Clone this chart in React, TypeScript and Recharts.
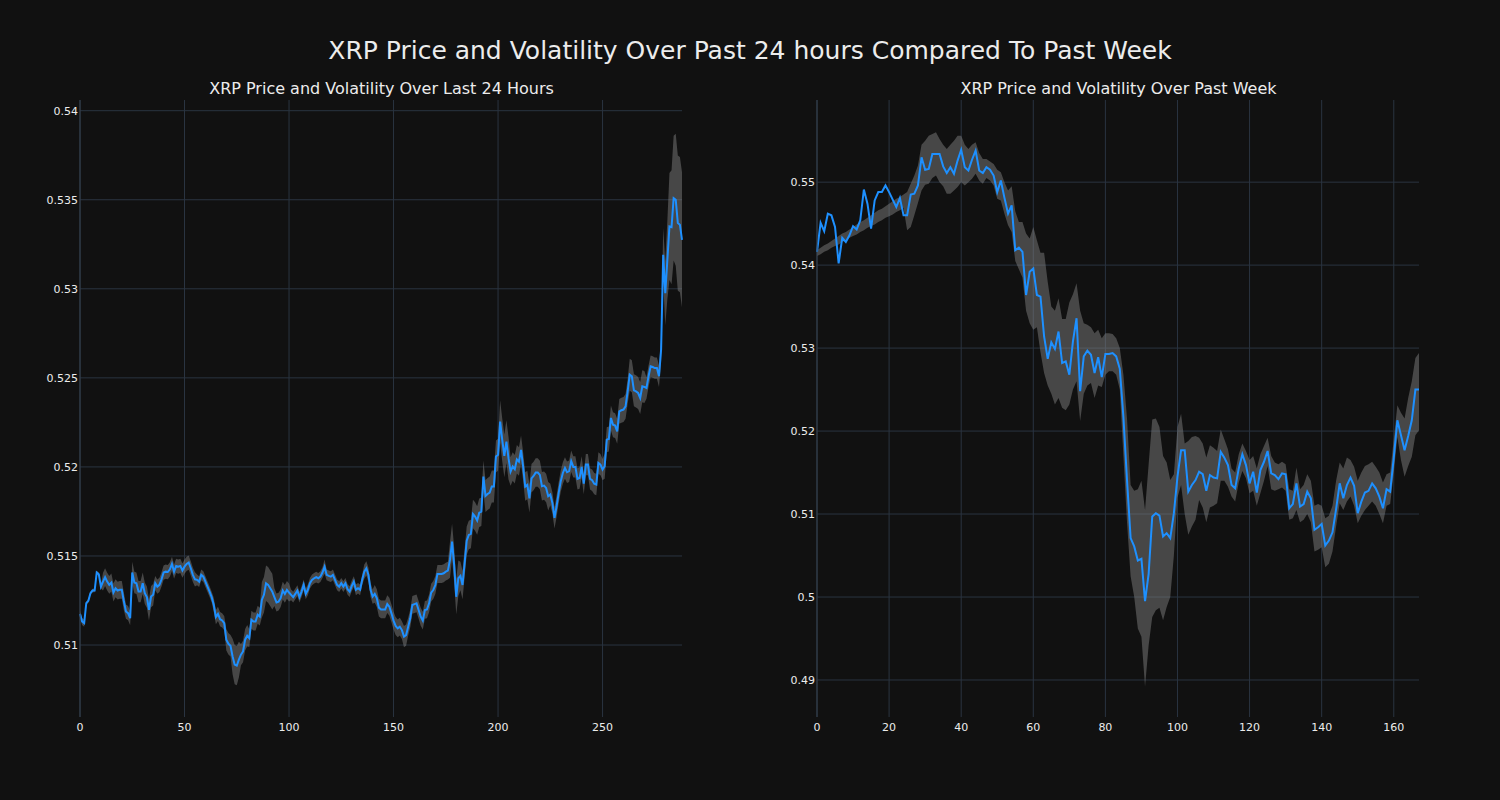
import { Area, CartesianGrid, ComposedChart, Line, XAxis, YAxis } from "recharts";

// 24h panel: 5-minute closes and rolling volatility (band half-width)
const dayPrice = [
  0.51175, 0.51132, 0.51123, 0.51235, 0.51248, 0.51291, 0.51306, 0.51306, 0.51407, 0.51397,
  0.51328, 0.51356, 0.51381, 0.51356, 0.51338, 0.51351, 0.51295, 0.51319, 0.51306, 0.5131,
  0.5131, 0.51244, 0.51188, 0.51179, 0.51151, 0.51407, 0.51351, 0.51347, 0.513, 0.513,
  0.51347, 0.51291, 0.51269, 0.51198, 0.51272, 0.51282, 0.51347, 0.51328, 0.51338, 0.51369,
  0.51407, 0.51412, 0.5141, 0.51425, 0.51455, 0.51412, 0.51444, 0.5144, 0.51444, 0.51418,
  0.5144, 0.51455, 0.51463, 0.51431, 0.51394, 0.51369, 0.51366, 0.51356, 0.51394, 0.51384,
  0.51356, 0.51328, 0.513, 0.51269, 0.51226, 0.51157, 0.51175, 0.51145, 0.51138, 0.51123,
  0.5103, 0.51007, 0.50996, 0.50936, 0.5089, 0.50884, 0.50918, 0.50946, 0.50964, 0.5103,
  0.51052, 0.51039, 0.51142, 0.51132, 0.51132, 0.5117, 0.5116, 0.51254, 0.51282, 0.51347,
  0.51338, 0.51319, 0.513, 0.51269, 0.51239, 0.51244, 0.51263, 0.51306, 0.51287, 0.5131,
  0.51295, 0.51282, 0.51269, 0.51287, 0.51306, 0.51269, 0.513, 0.51338, 0.51287, 0.5131,
  0.51347, 0.51366, 0.51375, 0.51381, 0.51375, 0.51384, 0.51407, 0.5144, 0.51394, 0.51388,
  0.51384, 0.51394, 0.51366, 0.51338, 0.51328, 0.51347, 0.51328, 0.51347, 0.51313, 0.513,
  0.51332, 0.51356, 0.5131, 0.51319, 0.5131, 0.51366, 0.51412, 0.51431, 0.51394, 0.5131,
  0.51272, 0.51287, 0.51263, 0.5121, 0.512, 0.512, 0.512, 0.5123, 0.51215, 0.51178,
  0.51137, 0.51107, 0.51094, 0.51103, 0.51084, 0.51047, 0.51056, 0.51103, 0.5115, 0.51225,
  0.5123, 0.51234, 0.51197, 0.51159, 0.51137, 0.51197, 0.512, 0.51234, 0.51294, 0.51309,
  0.51337, 0.51399, 0.51399, 0.51399, 0.51403, 0.51412, 0.51418, 0.51478, 0.51581, 0.51449,
  0.51271, 0.51375, 0.51388, 0.51337, 0.51459, 0.51586, 0.51618, 0.51624, 0.51736, 0.51721,
  0.51699, 0.51743, 0.51749, 0.51946, 0.51837, 0.51848, 0.51856, 0.5189, 0.5189, 0.52058,
  0.52068, 0.52255, 0.52152, 0.52062, 0.52142, 0.52049, 0.51974, 0.52002, 0.51987, 0.52043,
  0.5203, 0.52096, 0.52002, 0.5189, 0.51899, 0.51824, 0.51936, 0.51949, 0.51968, 0.51968,
  0.51955, 0.51892, 0.51895, 0.51882, 0.51835, 0.51845, 0.51798, 0.51714, 0.51779, 0.51854,
  0.5192, 0.51966, 0.51994, 0.5197, 0.51976, 0.52032, 0.52, 0.52, 0.51933, 0.51938,
  0.52, 0.51906, 0.52013, 0.52013, 0.51933, 0.51925, 0.51906, 0.51901, 0.52022, 0.52013,
  0.51985, 0.52004, 0.52153, 0.52157, 0.52275, 0.52237, 0.52232, 0.522, 0.52312, 0.52318,
  0.52322, 0.5234, 0.52424, 0.52518, 0.52509, 0.5243, 0.52424, 0.52415, 0.52387, 0.52453,
  0.52449, 0.52443, 0.52509, 0.52565, 0.52561, 0.52555, 0.52555, 0.52509, 0.52658, 0.53191,
  0.52976, 0.53163, 0.5335, 0.53346, 0.53509, 0.535, 0.53369, 0.5336, 0.53275,
];

const dayVol = [
  0.0002, 0.0002, 0.0002, 0.0001, 0.0001, 0.0001, 0.0001, 0.0001, 0.0001, 0.0001,
  0.0001, 0.0005, 0.0005, 0.0005, 0.0005, 0.0005, 0.0005, 0.0005, 0.0005, 0.0005,
  0.0005, 0.0005, 0.0004, 0.0004, 0.0004, 0.0006, 0.0006, 0.0006, 0.0006, 0.0006,
  0.0006, 0.0006, 0.0006, 0.0006, 0.0006, 0.0006, 0.0004, 0.0004, 0.0004, 0.0004,
  0.0004, 0.0004, 0.0004, 0.0004, 0.0004, 0.0004, 0.0004, 0.0004, 0.0004, 0.0004,
  0.0004, 0.0004, 0.0004, 0.0004, 0.0004, 0.0004, 0.0003, 0.0003, 0.0003, 0.0003,
  0.0003, 0.0003, 0.0003, 0.0003, 0.0004, 0.0004, 0.0004, 0.0004, 0.0004, 0.0004,
  0.0006, 0.0006, 0.0006, 0.001, 0.0011, 0.0011, 0.001, 0.0006, 0.0006, 0.0006,
  0.0006, 0.0005, 0.0005, 0.0005, 0.0005, 0.0005, 0.0005, 0.001, 0.001, 0.001,
  0.001, 0.001, 0.001, 0.0005, 0.0005, 0.0005, 0.0005, 0.0005, 0.0005, 0.0005,
  0.0005, 0.0003, 0.0003, 0.0003, 0.0003, 0.0003, 0.0003, 0.0003, 0.0003, 0.0003,
  0.0003, 0.0003, 0.0003, 0.0003, 0.0003, 0.0003, 0.0003, 0.0004, 0.0003, 0.0003,
  0.0003, 0.0003, 0.0003, 0.0003, 0.0003, 0.0003, 0.0003, 0.0003, 0.0003, 0.0003,
  0.0003, 0.0003, 0.0003, 0.0003, 0.0003, 0.0003, 0.0004, 0.0004, 0.0004, 0.0004,
  0.0004, 0.0005, 0.0005, 0.0005, 0.0005, 0.0005, 0.0005, 0.0005, 0.0005, 0.0005,
  0.0005, 0.0005, 0.0005, 0.0005, 0.0005, 0.0006, 0.0006, 0.0005, 0.0005, 0.0005,
  0.0005, 0.0005, 0.0005, 0.0005, 0.0005, 0.0005, 0.0005, 0.0005, 0.0005, 0.0005,
  0.0005, 0.0005, 0.0005, 0.0005, 0.0005, 0.0005, 0.0005, 0.001, 0.001, 0.001,
  0.001, 0.001, 0.0008, 0.0008, 0.0008, 0.0008, 0.0008, 0.0008, 0.0008, 0.0008,
  0.0008, 0.0008, 0.0008, 0.0009, 0.0009, 0.0009, 0.0009, 0.0009, 0.0009, 0.0009,
  0.0009, 0.0012, 0.0012, 0.0012, 0.0012, 0.0012, 0.0008, 0.0008, 0.0008, 0.0008,
  0.0008, 0.0008, 0.0008, 0.0008, 0.0008, 0.0008, 0.0008, 0.0008, 0.0008, 0.0008,
  0.0008, 0.0008, 0.0008, 0.0008, 0.0008, 0.0006, 0.0006, 0.0006, 0.0006, 0.0006,
  0.0006, 0.0006, 0.0006, 0.0006, 0.0006, 0.0006, 0.0006, 0.0006, 0.0006, 0.0006,
  0.0006, 0.0006, 0.0006, 0.0006, 0.0006, 0.0006, 0.0006, 0.0006, 0.0006, 0.0006,
  0.0006, 0.0007, 0.0007, 0.0007, 0.0007, 0.0007, 0.0007, 0.0007, 0.0007, 0.0007,
  0.0007, 0.0007, 0.0007, 0.0009, 0.0009, 0.0009, 0.0009, 0.0009, 0.0009, 0.0009,
  0.0009, 0.0006, 0.0006, 0.0006, 0.0006, 0.0006, 0.0006, 0.0006, 0.0006, 0.0015,
  0.0018, 0.0022, 0.003, 0.0032, 0.0035, 0.0037, 0.0038, 0.0038, 0.0038,
];

const dayTicksX = [0, 50, 100, 150, 200, 250];
const dayTicksY = [0.51, 0.515, 0.52, 0.525, 0.53, 0.535, 0.54];

// week panel: hourly closes with upper / lower band
const weekPrice = [
  0.5416, 0.5451, 0.5441, 0.5462, 0.546, 0.5446, 0.5402, 0.5433, 0.5428, 0.5436,
  0.5447, 0.5443, 0.5454, 0.5491, 0.5474, 0.5444, 0.5478, 0.5488, 0.5488, 0.5496,
  0.5488, 0.5479, 0.547, 0.5481, 0.546, 0.546, 0.5485, 0.5486, 0.5496, 0.553,
  0.5515, 0.5516, 0.5534, 0.5534, 0.5534, 0.5519, 0.5511, 0.5518, 0.551, 0.5526,
  0.5539, 0.5518, 0.5514, 0.5527, 0.5538, 0.5514, 0.5511, 0.5518, 0.5515, 0.5508,
  0.5488, 0.5502, 0.5481, 0.5462, 0.5472, 0.5418, 0.5421, 0.5416, 0.5364, 0.5392,
  0.5396, 0.5364, 0.5362, 0.5314, 0.5287, 0.5307, 0.5299, 0.532, 0.5282, 0.5284,
  0.5268, 0.5308, 0.5336, 0.5248, 0.529, 0.5297, 0.5292, 0.527, 0.5289, 0.5265,
  0.5293, 0.5293, 0.5294, 0.529, 0.5275, 0.5217, 0.5141, 0.5071, 0.5061, 0.5044,
  0.5046, 0.4995, 0.5028, 0.5097, 0.5101, 0.5098, 0.5073, 0.5077, 0.5071, 0.5101,
  0.5145, 0.5177, 0.5177, 0.5127, 0.5135, 0.5141, 0.5151, 0.5148, 0.5128, 0.5147,
  0.5144, 0.5143, 0.5175, 0.5168, 0.5159, 0.5135, 0.5131, 0.5155, 0.5172, 0.5159,
  0.5137, 0.5151, 0.5126, 0.5153, 0.5163, 0.5176, 0.5149, 0.5147, 0.5142, 0.5149,
  0.5148, 0.5107, 0.5112, 0.5137, 0.5109, 0.5112, 0.5127, 0.5119, 0.5081, 0.5084,
  0.5088, 0.5062, 0.5068, 0.5078, 0.5106, 0.5137, 0.5119, 0.5135, 0.5144, 0.5134,
  0.5101, 0.5115, 0.5126, 0.5128, 0.5137, 0.5131, 0.5121, 0.5107, 0.513, 0.5127,
  0.5168, 0.5213, 0.5195, 0.5177, 0.5194, 0.5213, 0.525, 0.525,
];

const weekUpper = [
  0.5418, 0.5421, 0.5424, 0.5426, 0.5429, 0.5432, 0.5435, 0.5438, 0.544, 0.5443,
  0.5446, 0.5449, 0.5452, 0.5454, 0.5457, 0.546, 0.5463, 0.5466, 0.5468, 0.5471,
  0.5474, 0.5477, 0.548, 0.5482, 0.5485, 0.5488, 0.5498, 0.5508, 0.552, 0.5545,
  0.555, 0.5556, 0.5558, 0.556, 0.5552, 0.5545, 0.554, 0.5545, 0.555, 0.5556,
  0.5556, 0.5545, 0.554, 0.5545, 0.5548, 0.5535, 0.5528, 0.5528, 0.5525, 0.5522,
  0.5515, 0.5512, 0.55, 0.549, 0.5495, 0.5465, 0.5452, 0.5452, 0.5438, 0.5432,
  0.5446, 0.543, 0.5415, 0.5415, 0.538, 0.535, 0.5345, 0.536, 0.5335, 0.5335,
  0.5355, 0.5365, 0.5378, 0.5345, 0.533, 0.5328, 0.5325, 0.5318, 0.5322, 0.5312,
  0.5318, 0.5318, 0.5317, 0.5312, 0.53, 0.5268, 0.5215, 0.5135, 0.5128, 0.513,
  0.514, 0.5105, 0.516, 0.5214, 0.5215, 0.5205, 0.517, 0.5162, 0.5141, 0.5148,
  0.5205, 0.5221, 0.5185, 0.5188, 0.5193, 0.5194, 0.5192, 0.5185, 0.5168, 0.5183,
  0.518, 0.5176, 0.5202, 0.519, 0.5178, 0.5155, 0.515, 0.5172, 0.5185, 0.5176,
  0.5165, 0.517, 0.5155, 0.5172, 0.5182, 0.5192, 0.517, 0.5162, 0.516, 0.5163,
  0.516, 0.513, 0.5128, 0.5156, 0.513, 0.5135, 0.5148, 0.514, 0.511, 0.5112,
  0.511, 0.5095, 0.5098, 0.511, 0.514, 0.5162, 0.5155, 0.5168, 0.5165, 0.5157,
  0.514, 0.515, 0.5158, 0.516, 0.5163, 0.5157, 0.515, 0.5138, 0.5148, 0.515,
  0.519, 0.5231, 0.5222, 0.5215, 0.524, 0.526, 0.5288, 0.5294,
];

const weekLower = [
  0.5411, 0.5413, 0.5416, 0.5418, 0.5421, 0.5423, 0.5425, 0.5428, 0.543, 0.5433,
  0.5435, 0.5437, 0.544, 0.5442, 0.5445, 0.5447, 0.5449, 0.5452, 0.5454, 0.5457,
  0.5459, 0.5461, 0.5464, 0.5466, 0.5469, 0.5442, 0.5446, 0.546, 0.5475, 0.549,
  0.5497, 0.5498, 0.5505, 0.5508, 0.55, 0.5495, 0.5486, 0.5486, 0.549, 0.5494,
  0.55, 0.5496, 0.55, 0.5504, 0.551, 0.5502, 0.5498, 0.5505, 0.5502, 0.5496,
  0.548, 0.5478, 0.5462, 0.5448, 0.544, 0.5405, 0.5395, 0.5385, 0.5345, 0.533,
  0.5322, 0.5325, 0.5295, 0.527, 0.5255, 0.5245, 0.5232, 0.524, 0.5228, 0.5225,
  0.5232, 0.525, 0.526, 0.5212, 0.5245, 0.5255, 0.5258, 0.524, 0.5255, 0.5253,
  0.5268, 0.5272, 0.5272, 0.5268, 0.525, 0.517, 0.509, 0.5025, 0.5, 0.4962,
  0.4952, 0.4892, 0.4942, 0.4976, 0.4984, 0.4987, 0.4972, 0.4988, 0.5, 0.505,
  0.512, 0.5135, 0.51, 0.5075, 0.5085, 0.5093, 0.5117, 0.5108, 0.509, 0.5108,
  0.511, 0.5113, 0.514, 0.514, 0.5133, 0.5121, 0.5115, 0.5138, 0.5152, 0.5143,
  0.5125, 0.5128, 0.511, 0.5125, 0.514, 0.5158, 0.513, 0.5128, 0.513, 0.5132,
  0.5128, 0.5093, 0.5095, 0.5105, 0.509, 0.5093, 0.51, 0.509, 0.5055, 0.5057,
  0.506, 0.5036, 0.504, 0.5055, 0.5085, 0.5113, 0.5105, 0.5115, 0.5121, 0.511,
  0.5089, 0.5098, 0.5105, 0.511, 0.5115, 0.511, 0.51, 0.5089, 0.511, 0.5112,
  0.515, 0.5193, 0.5165, 0.5145, 0.5158, 0.5169, 0.5195, 0.5201,
];

const weekTicksX = [0, 20, 40, 60, 80, 100, 120, 140, 160];
const weekTicksY = [0.49, 0.5, 0.51, 0.52, 0.53, 0.54, 0.55];

const BG = "#111111";
const GRID = "#2a3441";
const INK = "#ececec";
const LINE = "#1e90ff";
const FONT = "'DejaVu Sans', sans-serif";

const dayData = dayPrice.map((p, i) => ({
  x: i,
  price: p,
  band: [p - dayVol[i], p + dayVol[i]],
}));

const weekData = weekPrice.map((p, i) => ({
  x: i,
  price: p,
  band: [weekLower[i], weekUpper[i]],
}));

function Panel({
  data,
  title,
  xTicks,
  yTicks,
  xDomain,
  yDomain,
  left,
}: {
  data: { x: number; price: number; band: number[] }[];
  title: string;
  xTicks: number[];
  yTicks: number[];
  xDomain: [number, number];
  yDomain: [number, number];
  left: number;
}) {
  const tick = { fill: INK, fontSize: 11, fontFamily: FONT };
  return (
    <div style={{ position: "absolute", left, top: 0 }}>
      <div
        style={{
          position: "absolute",
          left: 80,
          width: 603,
          top: 79,
          textAlign: "center",
          color: INK,
          fontSize: 16,
          fontFamily: FONT,
          whiteSpace: "nowrap",
        }}
      >
        {title}
      </div>
      <ComposedChart
        width={700}
        height={760}
        data={data}
        margin={{ top: 100, right: 18, bottom: 13, left: 20 }}
      >
        <CartesianGrid
          stroke={GRID}
          strokeWidth={1}
          horizontalValues={yTicks}
          verticalValues={xTicks}
        />
        <XAxis
          dataKey="x"
          type="number"
          domain={xDomain}
          ticks={xTicks}
          tick={tick}
          tickLine={false}
          tickSize={4}
          tickMargin={2}
          axisLine={false}
          height={30}
        />
        <YAxis
          type="number"
          domain={yDomain}
          ticks={yTicks}
          allowDataOverflow
          tick={tick}
          tickLine={false}
          tickSize={2}
          tickMargin={0}
          axisLine={{ stroke: "#34404f" }}
          width={60}
        />
        <Area
          dataKey="band"
          fill="#8a8a8a"
          fillOpacity={0.45}
          stroke="none"
          isAnimationActive={false}
          activeDot={false}
        />
        <Line
          dataKey="price"
          stroke={LINE}
          strokeWidth={2}
          dot={false}
          activeDot={false}
          isAnimationActive={false}
        />
      </ComposedChart>
    </div>
  );
}

export default function App() {
  return (
    <div
      style={{
        position: "absolute",
        left: 0,
        top: 0,
        width: 1500,
        height: 800,
        background: BG,
        overflow: "hidden",
      }}
    >
      <div
        style={{
          position: "absolute",
          left: 0,
          width: 1500,
          top: 36,
          textAlign: "center",
          color: INK,
          fontSize: 25,
          fontFamily: FONT,
        }}
      >
        XRP Price and Volatility Over Past 24 hours Compared To Past Week
      </div>
      <Panel
        data={dayData}
        title="XRP Price and Volatility Over Last 24 Hours"
        xTicks={dayTicksX}
        yTicks={dayTicksY}
        xDomain={[0, 288]}
        yDomain={[0.50596, 0.5406]}
        left={0}
      />
      <Panel
        data={weekData}
        title="XRP Price and Volatility Over Past Week"
        xTicks={weekTicksX}
        yTicks={weekTicksY}
        xDomain={[0, 167]}
        yDomain={[0.48554, 0.5599]}
        left={737}
      />
    </div>
  );
}
